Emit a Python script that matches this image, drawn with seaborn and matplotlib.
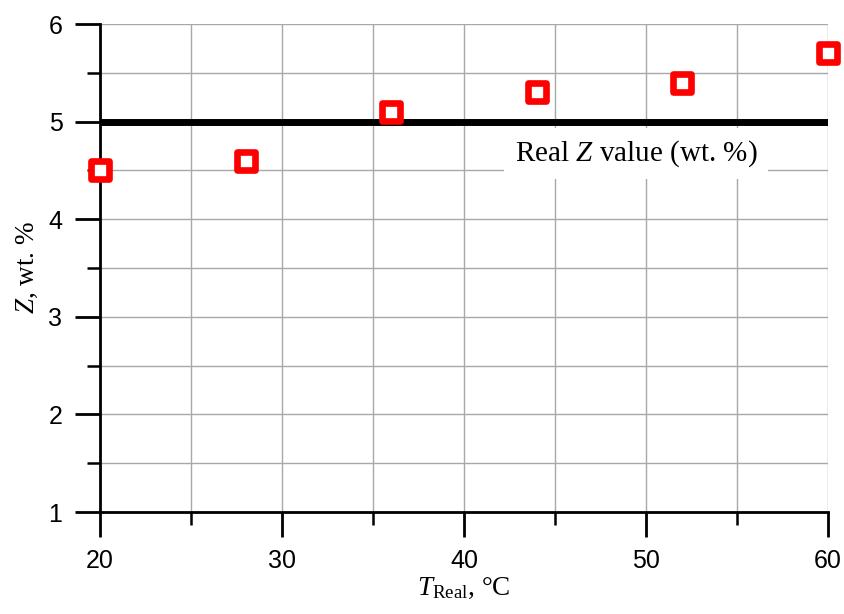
import matplotlib
matplotlib.use("Agg")
import matplotlib.pyplot as plt
from matplotlib.ticker import MultipleLocator
import seaborn as sns
import pandas as pd

# Measured composition versus real temperature
t_real = [20, 28, 36, 44, 52, 60]
z_measured = [4.5, 4.6, 5.1, 5.3, 5.4, 5.7]
z_real = 5.0
x_ticks = [20, 30, 40, 50, 60]
y_ticks = [1, 2, 3, 4, 5, 6]

sns.set_theme(style="white")
plt.rcParams["font.family"] = ["Liberation Sans", "DejaVu Sans"]
plt.rcParams["mathtext.fontset"] = "custom"
plt.rcParams["mathtext.rm"] = "Liberation Serif"
plt.rcParams["mathtext.it"] = "Liberation Serif:italic"
plt.rcParams["text.color"] = "black"
plt.rcParams["axes.labelcolor"] = "black"
plt.rcParams["xtick.color"] = "black"
plt.rcParams["ytick.color"] = "black"

fig, ax = plt.subplots(figsize=(8.45, 6.14), dpi=100)
fig.subplots_adjust(left=100 / 845, right=828 / 845, top=1 - 24 / 614, bottom=1 - 512 / 614)

df = pd.DataFrame({"T": t_real, "Z": z_measured})
ref = pd.DataFrame({"T": [x_ticks[0], x_ticks[-1]], "Z": [z_real, z_real]})

# Reference level and measured points
sns.lineplot(data=ref, x="T", y="Z", ax=ax, color="black", linewidth=5.0,
             solid_capstyle="round", zorder=3)
sns.scatterplot(data=df, x="T", y="Z", ax=ax, marker="s", s=155,
                facecolor="white", edgecolor="#ff0000", linewidth=4.8,
                zorder=4, clip_on=False)

serif = ["Liberation Serif", "DejaVu Serif"]
ax.text(49.45, 4.67, "Real $Z$ value (wt. %)", family=serif,
        fontsize=21, ha="center", va="center", zorder=5,
        bbox=dict(boxstyle="square,pad=0.35", facecolor="white", edgecolor="none"))

ax.set_xlim(20, 60)
ax.set_ylim(1, 6)
ax.set_xticks(x_ticks)
ax.set_yticks(y_ticks)
ax.xaxis.set_minor_locator(MultipleLocator(5))
ax.yaxis.set_minor_locator(MultipleLocator(0.5))

ax.grid(True, which="both", color="#a8a8a8", linewidth=1.0)
ax.set_axisbelow(True)

for side in ["top", "right"]:
    ax.spines[side].set_visible(False)
for side in ["left", "bottom"]:
    ax.spines[side].set_color("black")
    ax.spines[side].set_linewidth(2.0)

ax.tick_params(which="major", direction="out", length=18, width=2.0, color="black",
               pad=9, left=True, bottom=True)
ax.tick_params(which="minor", direction="out", length=9.5, width=1.8, color="black",
               left=True, bottom=True)
for lbl in ax.get_xticklabels() + ax.get_yticklabels():
    lbl.set_fontsize(18)
    lbl.set_color("black")

ax.set_xlabel(r"$T_{\mathrm{Real}}$, °C", family=serif, fontsize=19.5, labelpad=2)
ax.set_ylabel(r"$Z$, wt. %", family=serif, fontsize=19.5, labelpad=6)

fig.savefig("out.png", dpi=100, facecolor="white")
